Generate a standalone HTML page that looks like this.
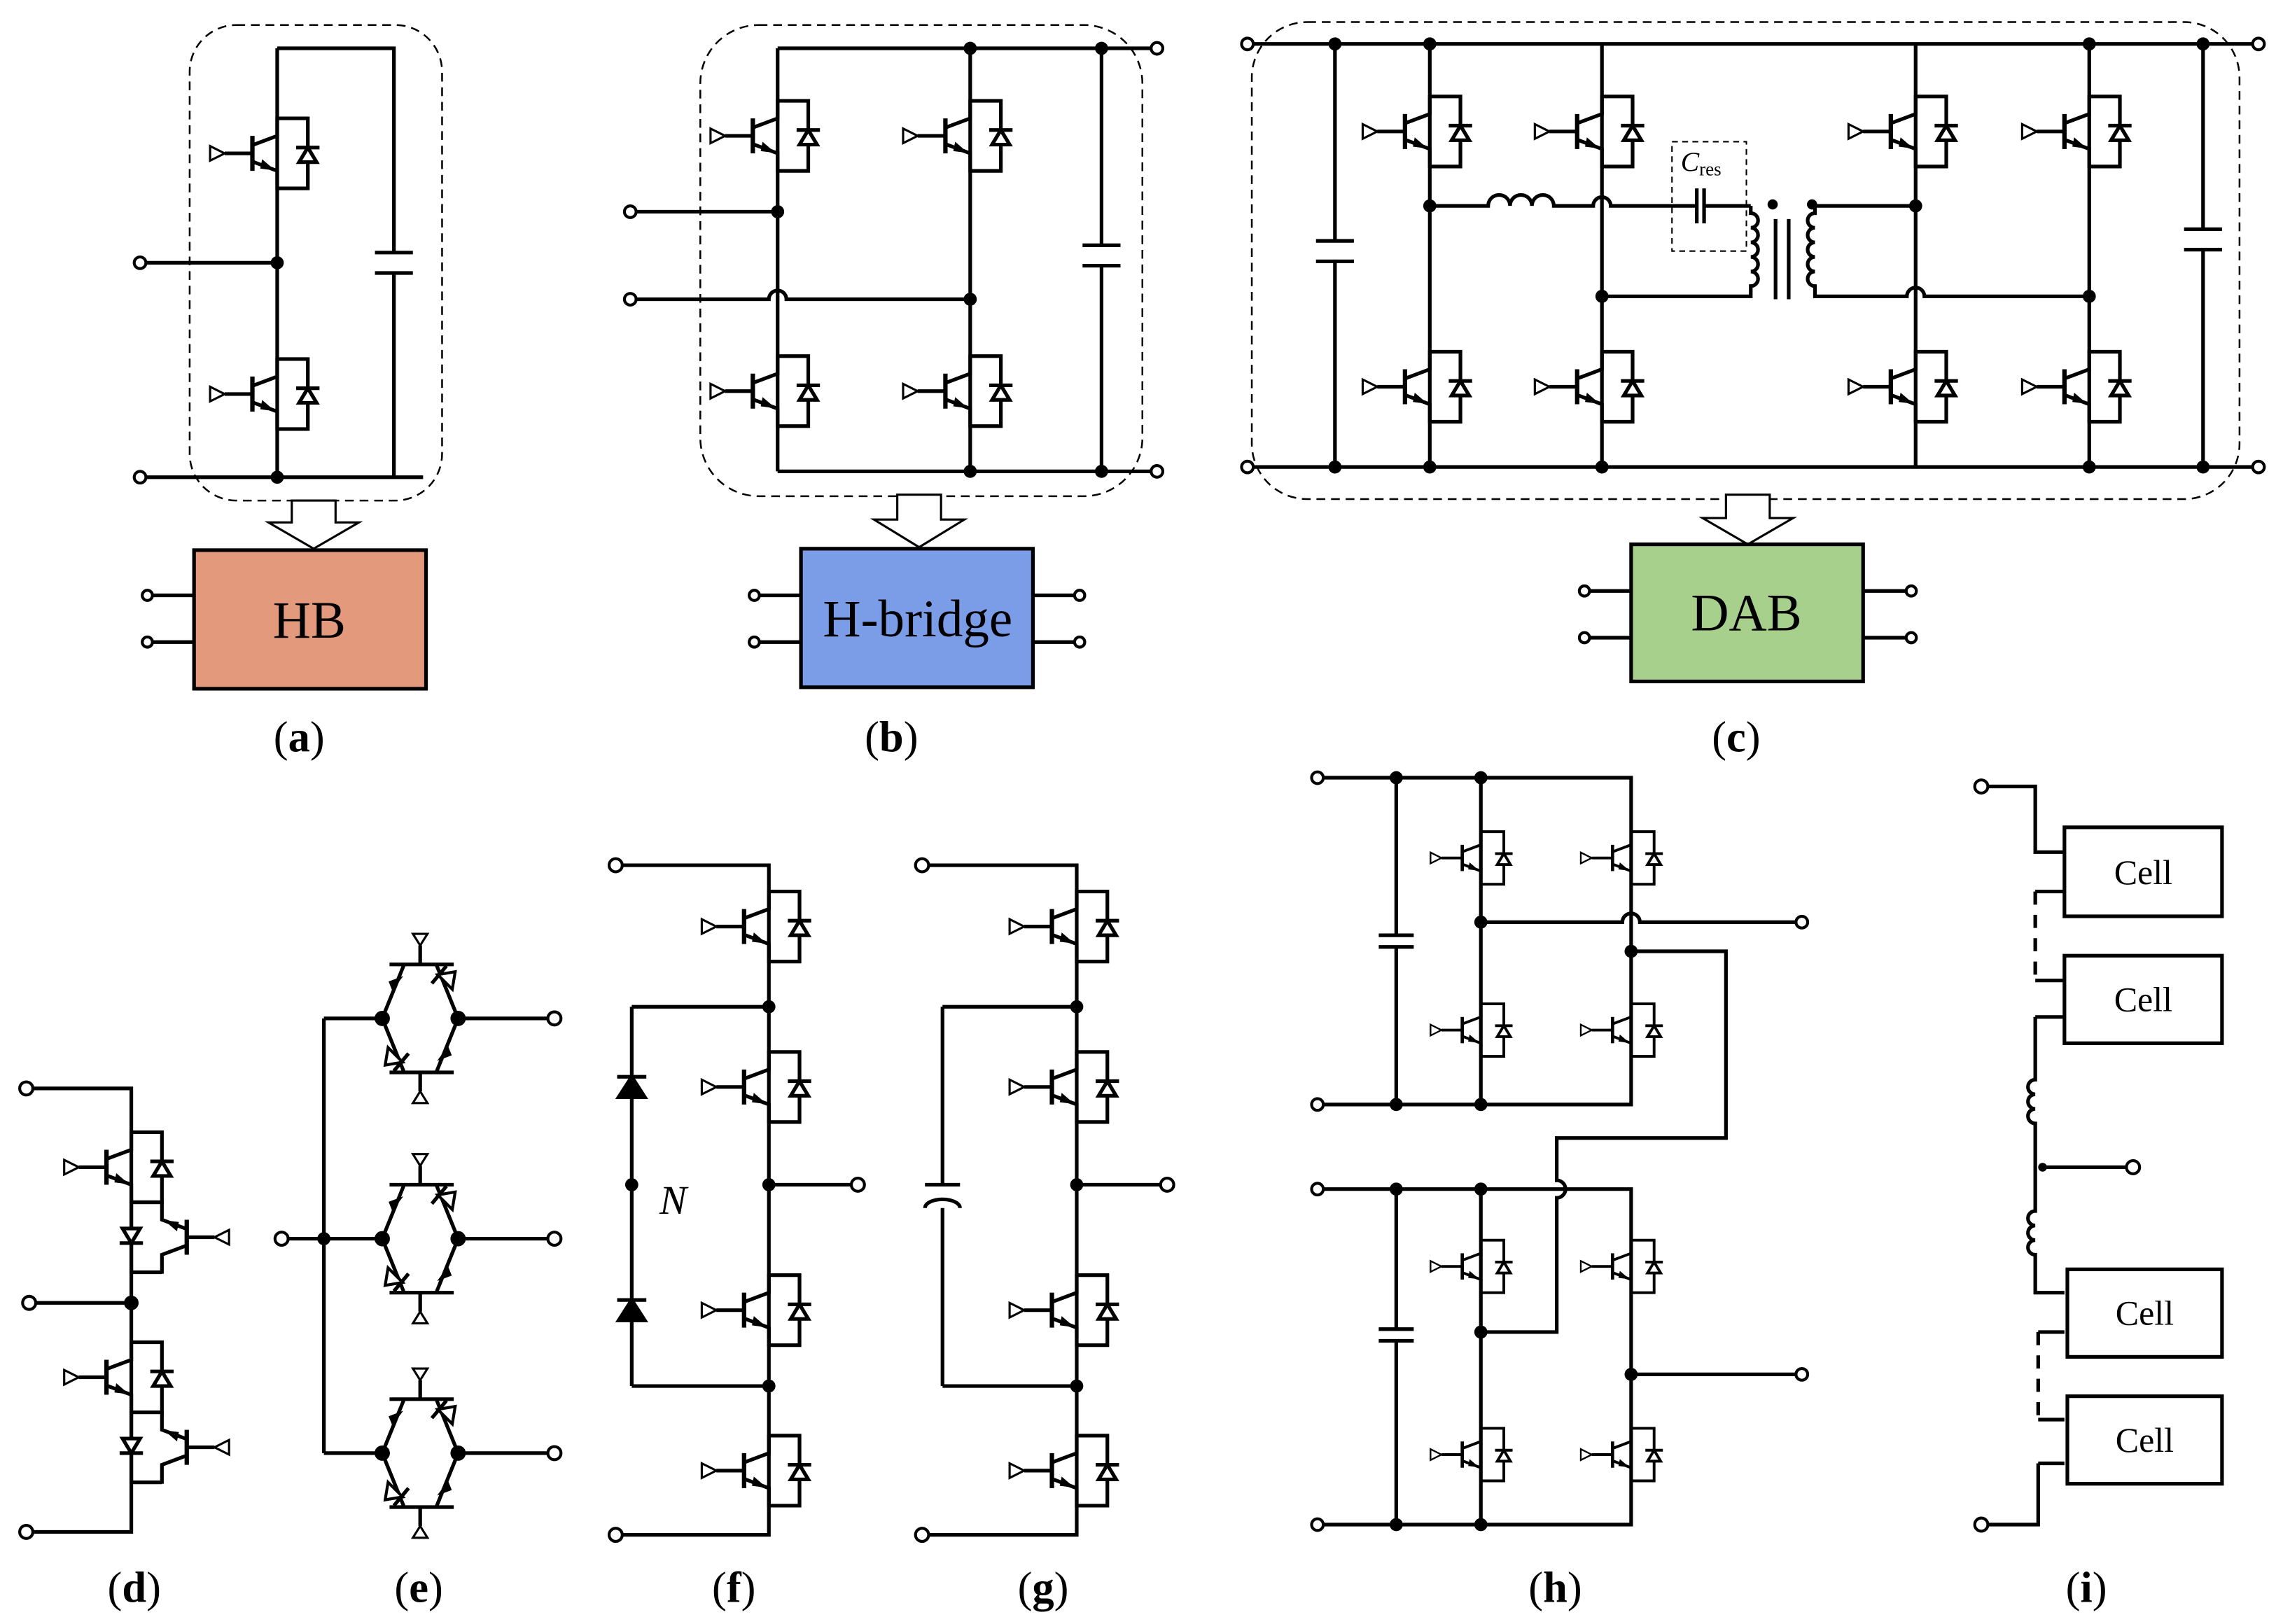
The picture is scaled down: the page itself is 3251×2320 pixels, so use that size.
<!DOCTYPE html>
<html><head><meta charset="utf-8"><style>
html,body{margin:0;padding:0;background:#fff}
svg{display:block}
text{font-family:"Liberation Serif",serif;fill:#000}
</style></head><body>
<svg width="3251" height="2320" viewBox="0 0 1560 1113" xmlns="http://www.w3.org/2000/svg">
<defs>
<g id="ig" fill="none" stroke="#000" stroke-width="2.5">
<path d="M0,-25 V-12 L-16,-6"/>
<path d="M-16,6 L0,12 V25"/>
<path d="M-17,-12 V12" stroke-width="3"/>
<path d="M-17,0 H-36"/>
<polygon points="-36,0 -46,-5 -46,5" fill="#fff" stroke-width="1.5"/>
<polygon points="-3,11 -10,5 -11,10" fill="#000" stroke-width="1"/>
<path d="M0,-24 H21 V24 H0"/>
<polygon points="15,6 27,6 21,-4" fill="#fff" stroke-width="2.5"/>
<path d="M13,-4 H29"/>
</g>
<g id="sw" fill="none" stroke="#000" stroke-width="2.5">
<path d="M-21,-37 H23 M-21,37 H23 M0,-37 V-50 M0,37 V50"/>
<polygon points="0,-50 -5,-58 5,-58" fill="#fff" stroke-width="1.5"/>
<polygon points="0,50 -5,58 5,58" fill="#fff" stroke-width="1.5"/>
<path d="M-26,0 L-11,-37 M26,0 L11,-37 M-26,0 L-11,37 M26,0 L11,37"/>
<polygon points="-19,-20 -13,-28 -21,-25" fill="#000" stroke-width="1"/>
<polygon points="19,20 13,28 21,25" fill="#000" stroke-width="1"/>
<polygon points="12,-30 22,-20 24,-32" fill="#fff" stroke-width="2"/>
<path d="M8,-24 L18,-36"/>
<polygon points="-12,30 -22,20 -24,32" fill="#fff" stroke-width="2"/>
<path d="M-8,24 L-18,36"/>
<circle cx="-26" cy="0" r="4" fill="#000"/><circle cx="26" cy="0" r="4" fill="#000"/>
</g>
</defs>
<g fill="none" stroke="#000" stroke-width="2.5">
<!-- (a) -->
<rect x="130" y="17" width="173" height="326" rx="32" stroke-width="1.2" stroke-dasharray="6,4"/>
<path d="M190,33 V327 M190,33 H270 V173 M270,187 V327 M96,180 H190 M96,327 H290"/>
<path d="M257,173 H283 M257,187 H283" />
<path d="M200,343 H230 V358 H246 L215,376 L184,358 H200 Z" stroke-width="1.5" fill="#fff"/>
<rect x="133" y="377" width="159" height="95" fill="#E39A7C"/>
<path d="M101,408 H133 M101,440 H133"/>
<!-- (b) -->
<rect x="480" y="17" width="303" height="323" rx="40" stroke-width="1.2" stroke-dasharray="6,4"/>
<path d="M533,33 H790 M533,33 V323 M665,33 V323 M755,33 V168 M755,182 V323 M533,323 H790"/>
<path d="M742,168 H768 M742,182 H768"/>
<path d="M432,145 H533 M432,205 H527 a6,6 0 0 1 12,0 H665"/>
<path d="M615,339 H645 V356 H661 L630,375 L599,356 H615 Z" stroke-width="1.5" fill="#fff"/>
<rect x="549" y="376" width="159" height="95" fill="#7B9CE6"/>
<path d="M517,408 H549 M517,440 H549 M708,408 H738 M708,440 H738"/>
<!-- (c) -->
<rect x="858" y="15" width="677" height="327" rx="38" stroke-width="1.2" stroke-dasharray="6,4"/>
<path d="M855,30 H1548 M855,320 H1548 M915,30 V165 M915,179 V320 M980,30 V320 M1098,30 V320 M1313,30 V320 M1432,30 V320 M1510,30 V157 M1510,171 V320"/>
<path d="M902,165 H928 M902,179 H928 M1497,157 H1523 M1497,171 H1523"/>
<path d="M980,141 H1020 a7.5,7.5 0 0 1 15,0 a7.5,7.5 0 0 1 15,0 a7.5,7.5 0 0 1 15,0 H1092 a6,6 0 0 1 12,0 H1163 M1168,141 H1200"/>
<path d="M1163,129 V153 M1168,129 V153"/>
<rect x="1146" y="97" width="51" height="75" stroke-width="1" stroke-dasharray="4,3"/>
<path d="M1200,141 V146 a5,5 0 0 1 0,10 a5,5 0 0 1 0,10 a5,5 0 0 1 0,10 a5,5 0 0 1 0,10 a5,5 0 0 1 0,10 V203 H1098"/>
<path d="M1244,141 V146 a5,5 0 0 0 0,10 a5,5 0 0 0 0,10 a5,5 0 0 0 0,10 a5,5 0 0 0 0,10 a5,5 0 0 0 0,10 V203 H1307 a6,6 0 0 1 12,0 H1432"/>
<path d="M1244,141 H1313 M1217,150 V205 M1226,150 V205" />
<path d="M1183,339 H1213 V355 H1229 L1198,373 L1167,355 H1183 Z" stroke-width="1.5" fill="#fff"/>
<rect x="1118" y="373" width="159" height="94" fill="#A8D08D"/>
<path d="M1086,405 H1118 M1086,437 H1118 M1277,405 H1308 M1277,437 H1308"/>
<!-- (d) -->
<path d="M18,746 H90 V1050 H18 M20,893 H90"/>
<!-- (e) -->
<path d="M222,698 V996 M193,849 H262 M222,698 H262 M222,996 H262 M315,698 H380 M315,849 H380 M315,996 H380"/>
<!-- (f) -->
<path d="M422,593 H527 V1052 H422 M527,812 H588 M433,690 H527 M433,950 H527 M433,690 V950"/>
<!-- (g) -->
<path d="M632,593 H738 V1052 H632 M738,812 H800 M646,690 H738 M646,950 H738 M646,690 V812 M646,828 V950"/>
<path d="M634,812 H658 M634,828 a12,6 0 0 1 24,0"/>
<!-- (h) -->
<path d="M903,533 H1118 V757 H903 M957,533 V641 M957,649 V757 M1015,533 V757 M945,641 H969 M945,649 H969"/>
<path d="M1015,632 H1112 a6,6 0 0 1 12,0 H1235 M1118,652 H1183 V780 H1067 V809 a6,6 0 0 1 0,12 V913 H1015"/>
<path d="M903,815 H1118 V1045 H903 M957,815 V911 M957,919 V1045 M1015,815 V1045 M945,911 H969 M945,919 H969 M1118,942 H1235"/>
<!-- (i) -->
<path d="M1358,539 H1395 V584 H1415 M1395,611 H1415 M1395,697 H1415 M1395,672 H1415 M1395,697 V740 a5,5 0 0 0 0,10 a5,5 0 0 0 0,10 a5,5 0 0 0 0,10 V830 a5,5 0 0 0 0,10 a5,5 0 0 0 0,10 a5,5 0 0 0 0,10 V886 H1415 M1400,800 H1462 M1397,913 H1415 M1397,973 H1415 M1397,1003 H1415 M1397,1003 V1045 H1358"/>
<path d="M1395,611 V672 M1397,913 V973" stroke-dasharray="9,7"/>
<rect x="1415" y="567" width="108" height="61"/>
<rect x="1415" y="655" width="108" height="60"/>
<rect x="1417" y="870" width="106" height="60"/>
<rect x="1417" y="957" width="106" height="60"/>
</g>
<!-- IGBTs -->
<use href="#ig" x="190" y="105"/><use href="#ig" x="190" y="270"/>
<use href="#ig" x="533" y="93"/><use href="#ig" x="665" y="93"/><use href="#ig" x="533" y="268"/><use href="#ig" x="665" y="268"/>
<use href="#ig" x="980" y="90"/><use href="#ig" x="1098" y="90"/><use href="#ig" x="980" y="265"/><use href="#ig" x="1098" y="265"/>
<use href="#ig" x="1313" y="90"/><use href="#ig" x="1432" y="90"/><use href="#ig" x="1313" y="265"/><use href="#ig" x="1432" y="265"/>
<use href="#ig" x="90" y="800"/><use href="#ig" x="90" y="944"/>
<g transform="translate(111,848) scale(-1,-1)"><use href="#ig"/></g>
<g transform="translate(111,992) scale(-1,-1)"><use href="#ig"/></g>
<use href="#sw" x="288" y="698"/><use href="#sw" x="288" y="849"/><use href="#sw" x="288" y="996"/>
<use href="#ig" x="527" y="635"/><use href="#ig" x="527" y="745"/><use href="#ig" x="527" y="898"/><use href="#ig" x="527" y="1008"/>
<use href="#ig" x="738" y="635"/><use href="#ig" x="738" y="745"/><use href="#ig" x="738" y="898"/><use href="#ig" x="738" y="1008"/>
<g transform="translate(1015,588) scale(0.75)"><use href="#ig"/></g><g transform="translate(1118,588) scale(0.75)"><use href="#ig"/></g>
<g transform="translate(1015,706) scale(0.75)"><use href="#ig"/></g><g transform="translate(1118,706) scale(0.75)"><use href="#ig"/></g>
<g transform="translate(1015,868) scale(0.75)"><use href="#ig"/></g><g transform="translate(1118,868) scale(0.75)"><use href="#ig"/></g>
<g transform="translate(1015,997) scale(0.75)"><use href="#ig"/></g><g transform="translate(1118,997) scale(0.75)"><use href="#ig"/></g>
<!-- clamp diodes -->
<g fill="#000" stroke="#000" stroke-width="2.5">
<polygon points="424,752 442,752 433,738"/><path d="M423,738 H443"/>
<polygon points="424,905 442,905 433,891"/><path d="M423,891 H443"/>
</g>
<!-- dots -->
<g fill="#000">
<circle cx="190" cy="180" r="4.5"/><circle cx="190" cy="327" r="4.5"/>
<circle cx="533" cy="145" r="4.5"/><circle cx="665" cy="205" r="4.5"/><circle cx="665" cy="33" r="4.5"/><circle cx="755" cy="33" r="4.5"/><circle cx="665" cy="323" r="4.5"/><circle cx="755" cy="323" r="4.5"/>
<circle cx="915" cy="30" r="4.5"/><circle cx="980" cy="30" r="4.5"/><circle cx="1432" cy="30" r="4.5"/><circle cx="1510" cy="30" r="4.5"/>
<circle cx="915" cy="320" r="4.5"/><circle cx="980" cy="320" r="4.5"/><circle cx="1098" cy="320" r="4.5"/><circle cx="1432" cy="320" r="4.5"/><circle cx="1510" cy="320" r="4.5"/>
<circle cx="980" cy="141" r="4.5"/><circle cx="1098" cy="203" r="4.5"/><circle cx="1313" cy="141" r="4.5"/><circle cx="1432" cy="203" r="4.5"/>
<circle cx="1215" cy="140" r="3.5"/><circle cx="1242" cy="140" r="3.5"/>
<circle cx="90" cy="893" r="5"/><circle cx="222" cy="849" r="4.5"/>
<circle cx="527" cy="690" r="4.5"/><circle cx="527" cy="812" r="4.5"/><circle cx="527" cy="950" r="4.5"/><circle cx="433" cy="812" r="4.5"/>
<circle cx="738" cy="690" r="4.5"/><circle cx="738" cy="812" r="4.5"/><circle cx="738" cy="950" r="4.5"/>
<circle cx="957" cy="533" r="4.5"/><circle cx="1015" cy="533" r="4.5"/><circle cx="957" cy="757" r="4.5"/><circle cx="1015" cy="757" r="4.5"/>
<circle cx="1015" cy="632" r="4.5"/><circle cx="1118" cy="652" r="4.5"/>
<circle cx="957" cy="815" r="4.5"/><circle cx="1015" cy="815" r="4.5"/><circle cx="957" cy="1045" r="4.5"/><circle cx="1015" cy="1045" r="4.5"/>
<circle cx="1015" cy="913" r="4.5"/><circle cx="1118" cy="942" r="4.5"/><circle cx="1400" cy="800" r="3"/>
</g>
<!-- terminals -->
<g fill="#fff" stroke="#000" stroke-width="2">
<circle cx="96" cy="180" r="4"/><circle cx="96" cy="327" r="4"/><circle cx="101" cy="408" r="3.5"/><circle cx="101" cy="440" r="3.5"/>
<circle cx="432" cy="145" r="4"/><circle cx="432" cy="205" r="4"/><circle cx="793" cy="33" r="4"/><circle cx="793" cy="323" r="4"/>
<circle cx="517" cy="408" r="3.5"/><circle cx="517" cy="440" r="3.5"/><circle cx="740" cy="408" r="3.5"/><circle cx="740" cy="440" r="3.5"/>
<circle cx="855" cy="30" r="4"/><circle cx="855" cy="320" r="4"/><circle cx="1548" cy="30" r="4"/><circle cx="1548" cy="320" r="4"/>
<circle cx="1086" cy="405" r="3.5"/><circle cx="1086" cy="437" r="3.5"/><circle cx="1310" cy="405" r="3.5"/><circle cx="1310" cy="437" r="3.5"/>
<circle cx="18" cy="746" r="4.5"/><circle cx="20" cy="893" r="4.5"/><circle cx="18" cy="1050" r="4.5"/>
<circle cx="193" cy="849" r="4.5"/><circle cx="380" cy="698" r="4.5"/><circle cx="380" cy="849" r="4.5"/><circle cx="380" cy="996" r="4.5"/>
<circle cx="422" cy="593" r="4.5"/><circle cx="422" cy="1052" r="4.5"/><circle cx="588" cy="812" r="4.5"/>
<circle cx="632" cy="593" r="4.5"/><circle cx="632" cy="1052" r="4.5"/><circle cx="800" cy="812" r="4.5"/>
<circle cx="903" cy="533" r="4"/><circle cx="903" cy="757" r="4"/><circle cx="903" cy="815" r="4"/><circle cx="903" cy="1045" r="4"/>
<circle cx="1235" cy="632" r="4"/><circle cx="1235" cy="942" r="4"/>
<circle cx="1358" cy="539" r="4.5"/><circle cx="1358" cy="1045" r="4.5"/><circle cx="1462" cy="800" r="4.5"/>
</g>
<!-- text -->
<g text-anchor="middle">
<text x="212" y="437" font-size="36">HB</text>
<text x="629" y="436" font-size="36">H-bridge</text>
<text x="1197" y="432" font-size="36">DAB</text>
<text x="1469" y="606" font-size="24">Cell</text>
<text x="1469" y="693" font-size="24">Cell</text>
<text x="1470" y="908" font-size="24">Cell</text>
<text x="1470" y="995" font-size="24">Cell</text>
<g font-size="30"><text x="205" y="515">(<tspan font-weight="bold">a</tspan>)</text>
<text x="611" y="515">(<tspan font-weight="bold">b</tspan>)</text>
<text x="1190" y="515">(<tspan font-weight="bold">c</tspan>)</text>
<text x="92" y="1098">(<tspan font-weight="bold">d</tspan>)</text>
<text x="287" y="1098">(<tspan font-weight="bold">e</tspan>)</text>
<text x="503" y="1098">(<tspan font-weight="bold">f</tspan>)</text>
<text x="715" y="1098">(<tspan font-weight="bold">g</tspan>)</text>
<text x="1066" y="1098">(<tspan font-weight="bold">h</tspan>)</text>
<text x="1430" y="1098">(<tspan font-weight="bold">i</tspan>)</text></g>
</g>
<text x="1152" y="117" font-size="19" font-style="italic" fill="#555">C<tspan font-size="13" font-style="normal" dy="3">res</tspan></text>
<text x="452" y="832" font-size="28" font-style="italic" fill="#555">N</text>
</svg>
</body></html>
